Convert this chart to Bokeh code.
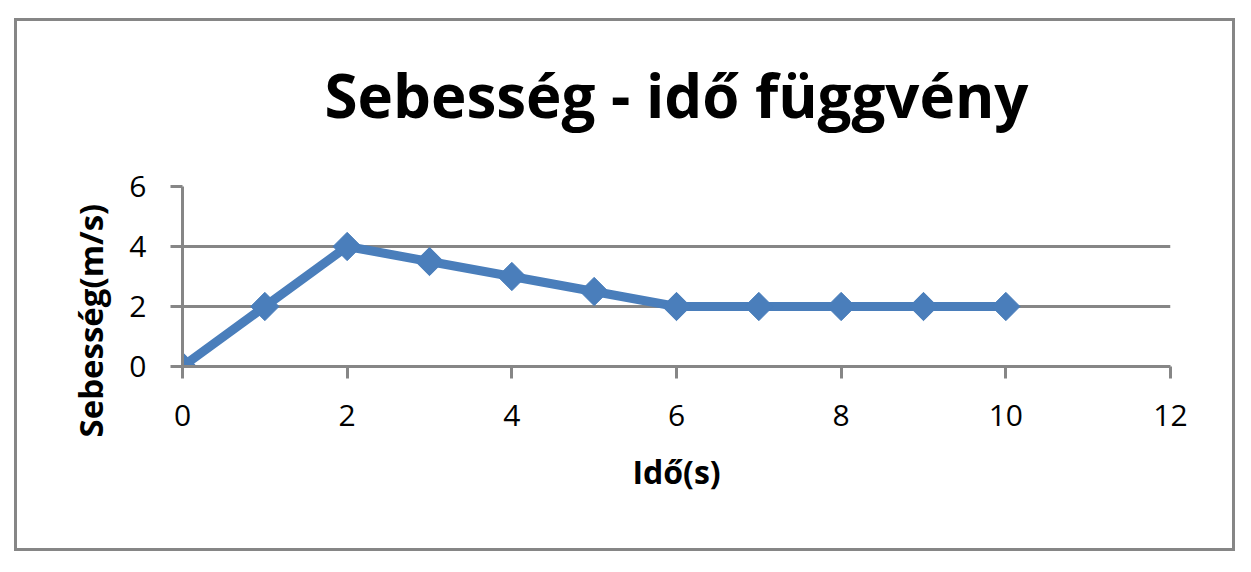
from bokeh.plotting import figure
from bokeh.models import FixedTicker, ColumnDataSource, Title
from bokeh.embed import file_html
from bokeh.resources import INLINE

# data
ido = [0, 1, 2, 3, 4, 5, 6, 7, 8, 9, 10]
sebesseg = [0, 2, 4, 3.5, 3, 2.5, 2, 2, 2, 2, 2]
x_ticks = [0, 2, 4, 6, 8, 10, 12]
y_ticks = [0, 2, 4, 6]
title_text = "Sebesség - idő függvény"
x_label = "Idő(s)"
y_label = "Sebesség(m/s)"

GRAY = "#868686"
BLUE = "#4a7ebb"
FONT = "Open Sans"

p = figure(width=1245, height=566, output_backend="svg", toolbar_location=None,
           x_range=(0, 12), y_range=(0, 6),
           frame_width=988, frame_height=180,
           min_border_left=182, min_border_right=75,
           min_border_top=185, min_border_bottom=201)
p.outline_line_color = None
p.border_fill_color = None
p.background_fill_color = None

xax = p.xaxis[0]
yax = p.yaxis[0]

# outer chart-area border drawn with CSS on the plot element
g = f"linear-gradient({GRAY},{GRAY})"
p.styles = {
    "background-color": "white",
    "background-image": ",".join([g] * 4),
    "background-size": "1221px 3px, 1221px 3px, 3px 533px, 3px 533px",
    "background-position": "14px 18px, 14px 548px, 14px 18px, 1232px 18px",
    "background-repeat": "no-repeat",
}

src = ColumnDataSource(dict(x=ido, y=sebesseg))
p.line("x", "y", source=src, line_color=BLUE, line_width=9)
p.scatter("x", "y", source=src, marker="square", angle=0.785398, size=20,
          fill_color=BLUE, line_color=BLUE)

p.xgrid.visible = False
p.ygrid.grid_line_color = GRAY
p.ygrid.grid_line_width = 3
p.ygrid.ticker = FixedTicker(ticks=y_ticks)

for ax in (xax, yax):
    ax.axis_line_color = GRAY
    ax.axis_line_width = 3
    ax.major_tick_line_color = GRAY
    ax.major_tick_line_width = 3
    ax.major_tick_out = 12
    ax.major_tick_in = 0
    ax.minor_tick_line_color = None
    ax.major_label_text_font = FONT
    ax.major_label_text_font_size = "30px"
    ax.major_label_text_color = "black"
    ax.axis_label_text_font = FONT
    ax.axis_label_text_font_size = "32px"
    ax.axis_label_text_font_style = "bold"
    ax.axis_label_text_color = "black"

xax.ticker = FixedTicker(ticks=x_ticks)
yax.ticker = FixedTicker(ticks=y_ticks)
xax.axis_label = x_label
xax.major_label_standoff = 26
yax.major_label_standoff = 24
xax.axis_label_standoff = 21

t = Title(text=title_text, align="center", text_font=FONT, text_font_size="60px",
          text_font_style="bold", text_color="black", standoff=102)
p.add_layout(t, "above")

# y axis title (Excel places it lower than the frame centre)
ytitle = Title(text=y_label, align="left", offset=-71, standoff=27,
               text_font=FONT, text_font_size="33px", text_font_style="bold",
               text_color="black")
p.add_layout(ytitle, "left")

open("out.html", "w").write(file_html(p, INLINE))
